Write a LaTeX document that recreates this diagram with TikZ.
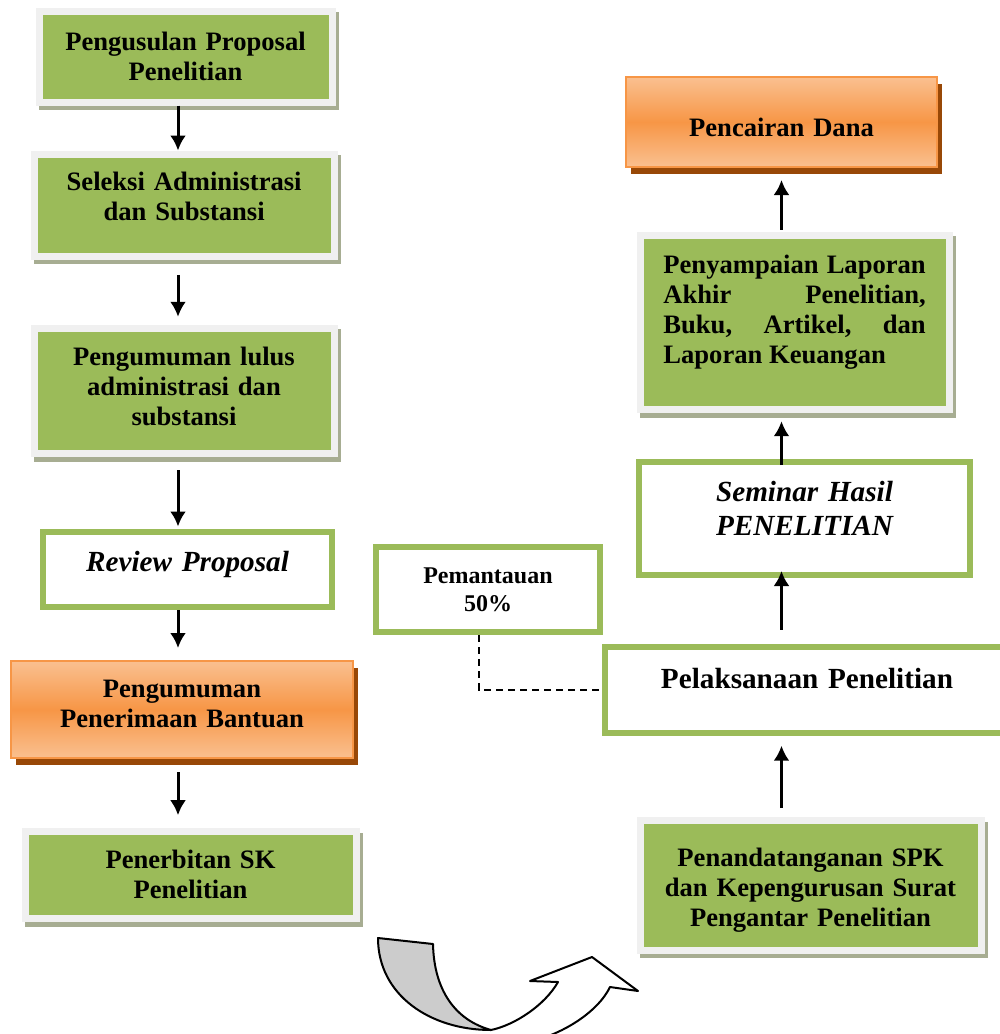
\documentclass[tikz,border=0pt]{standalone}
\usepackage{fontspec}
\setmainfont{Liberation Serif}
\usetikzlibrary{arrows.meta,shadows,positioning}

\definecolor{grn}{HTML}{9BBB59}
\definecolor{frm}{HTML}{F0F0F0}
\definecolor{shg}{HTML}{A7AD92}
\definecolor{orL}{HTML}{FAC090}
\definecolor{orM}{HTML}{F79646}
\definecolor{orB}{HTML}{984807}

\begin{document}
\begin{tikzpicture}[x=0.5pt, y=-0.5pt,
	basic/.style    = {inner sep=0pt, anchor=north west, align=center, font=\fontsize{13.3pt}{15pt}\selectfont\bfseries},
	greenbox/.style = {basic, draw=frm, line width=3.5pt, fill=grn,
		drop shadow={fill=shg, draw=shg, line width=3.5pt, opacity=1, shadow xshift=1.5pt, shadow yshift=-2.25pt}},
	orbox/.style    = {basic, draw=orM, line width=1pt, top color=orL, bottom color=orL, middle color=orM,
		drop shadow={fill=orB, opacity=1, shadow xshift=2.25pt, shadow yshift=-3.5pt}},
	wbox/.style     = {basic, draw=grn, line width=3pt, fill=white},
	big/.style      = {font=\fontsize{14.6pt}{17pt}\selectfont\bfseries},
	bigit/.style    = {font=\fontsize{14.6pt}{17pt}\selectfont\bfseries\itshape},
	small/.style    = {font=\fontsize{12pt}{14pt}\selectfont\bfseries},
	arrow/.style    = {->, line width=1.5pt},
	>={Latex[length=7.5pt,width=8pt]}]

	\clip (0,0) rectangle (1000,1034);

	% left column, top to bottom
	\node[greenbox, text width=146.5pt, text height=19.75pt, text depth=25.75pt] (usul) at (35.5,7.5) {Pengusulan Proposal\\ Penelitian};
	\node[greenbox, text width=150.15pt, text height=18.1pt, text depth=33.05pt] (seleksi) at (30.5,150.5) {Seleksi Administrasi\\ dan Substansi};
	\node[greenbox, text width=150pt, text height=18.45pt, text depth=44.25pt] (lulus) at (30.5,324.8) {Pengumuman lulus\\ administrasi dan\\ substansi};
	\node[wbox, bigit, text width=144.3pt, text height=19.9pt, text depth=17.95pt] (review) at (40.2,528.5) {Review Proposal};
	\node[orbox, text width=171pt, text height=18.35pt, text depth=30.15pt] (terima) at (10,660) {Pengumuman\\ Penerimaan Bantuan};
	\node[greenbox, text width=165.5pt, text height=18.4pt, text depth=25.1pt] (sk) at (21.5,828.2) {Penerbitan SK\\ Penelitian};

	% right column, bottom to top
	\node[greenbox, text width=170.5pt, text height=23.05pt, text depth=41.75pt] (spk) at (636.5,817.2) {Penandatanganan SPK\\ dan Kepengurusan Surat\\ Pengantar Penelitian};
	\node[wbox, big, text width=202pt, text height=20.65pt, text depth=22.35pt] (laksana) at (602,643.7) {Pelaksanaan Penelitian};
	\node[wbox, small, text width=112pt, text height=18pt, text depth=24.5pt] (pantau) at (373,544) {Pemantauan\\ 50\%};
	\node[wbox, bigit, text width=165.5pt, text height=19.65pt, text depth=36.85pt] (seminar) at (636,459) {Seminar Hasil\\ PENELITIAN};
	\node[greenbox, align=justify, inner xsep=11.7pt, text width=131.2pt, text height=19.25pt, text depth=68.1pt] (lapor) at (636.5,231.5)
		{\hyphenpenalty=10000 Penyampaian Laporan\linebreak Akhir Penelitian,\linebreak Buku, Artikel, dan\linebreak Laporan Keuangan};
	\node[orbox, text width=155.5pt, text height=29.5pt, text depth=15.5pt] (cair) at (625,76) {Pencairan Dana};

	% arrows
	\coordinate (lx) at (178,0);
	\coordinate (rx) at (781.5,0);
	\draw[arrow] (usul.south -| lx) -- (seleksi.north -| lx);
	\draw[arrow, shorten <=7.5pt, shorten >=4pt] (seleksi.south -| lx) -- (lulus.north -| lx);
	\draw[arrow, shorten <=6.5pt, shorten >=1pt] (lulus.south -| lx) -- (review.north -| lx);
	\draw[arrow, shorten >=6pt] (review.south -| lx) -- (terima.north -| lx);
	\draw[arrow, shorten <=6.5pt, shorten >=6.5pt] (terima.south -| lx) -- (sk.north -| lx);

	\draw[arrow, shorten <=4.5pt, shorten >=5pt] (spk.north -| rx) -- (laksana.south -| rx);
	\draw[arrow, shorten <=7pt, shorten >=-3.5pt] (laksana.north -| rx) -- (seminar.south -| rx);
	\draw[arrow, shorten <=-3pt, shorten >=4pt] (seminar.north -| rx) -- (lapor.south -| rx);
	\draw[arrow, shorten <=1pt, shorten >=6pt] (lapor.north -| rx) -- (cair.south -| rx);

	% monitoring link
	\coordinate (dx) at (479,0);
	\draw[line width=0.8pt, dash pattern=on 3.5pt off 2.5pt] (pantau.south -| dx) |- (laksana.west);

	% curved arrow at the bottom
	\filldraw[fill=gray!40, line width=1pt, line join=round] (378,938) -- (433,944)
		.. controls (434,990) and (455,1020) .. (491,1030)
		.. controls (430,1030) and (378,995) .. (378,938) -- cycle;
	\draw[line width=1pt, line join=round] (491,1030) .. controls (515,1025) and (545,1005) .. (558,982)
		-- (530,981) -- (592,957) -- (638,991) -- (610,987)
		.. controls (598,1012) and (560,1038) .. (515,1045);
\end{tikzpicture}
\end{document}
